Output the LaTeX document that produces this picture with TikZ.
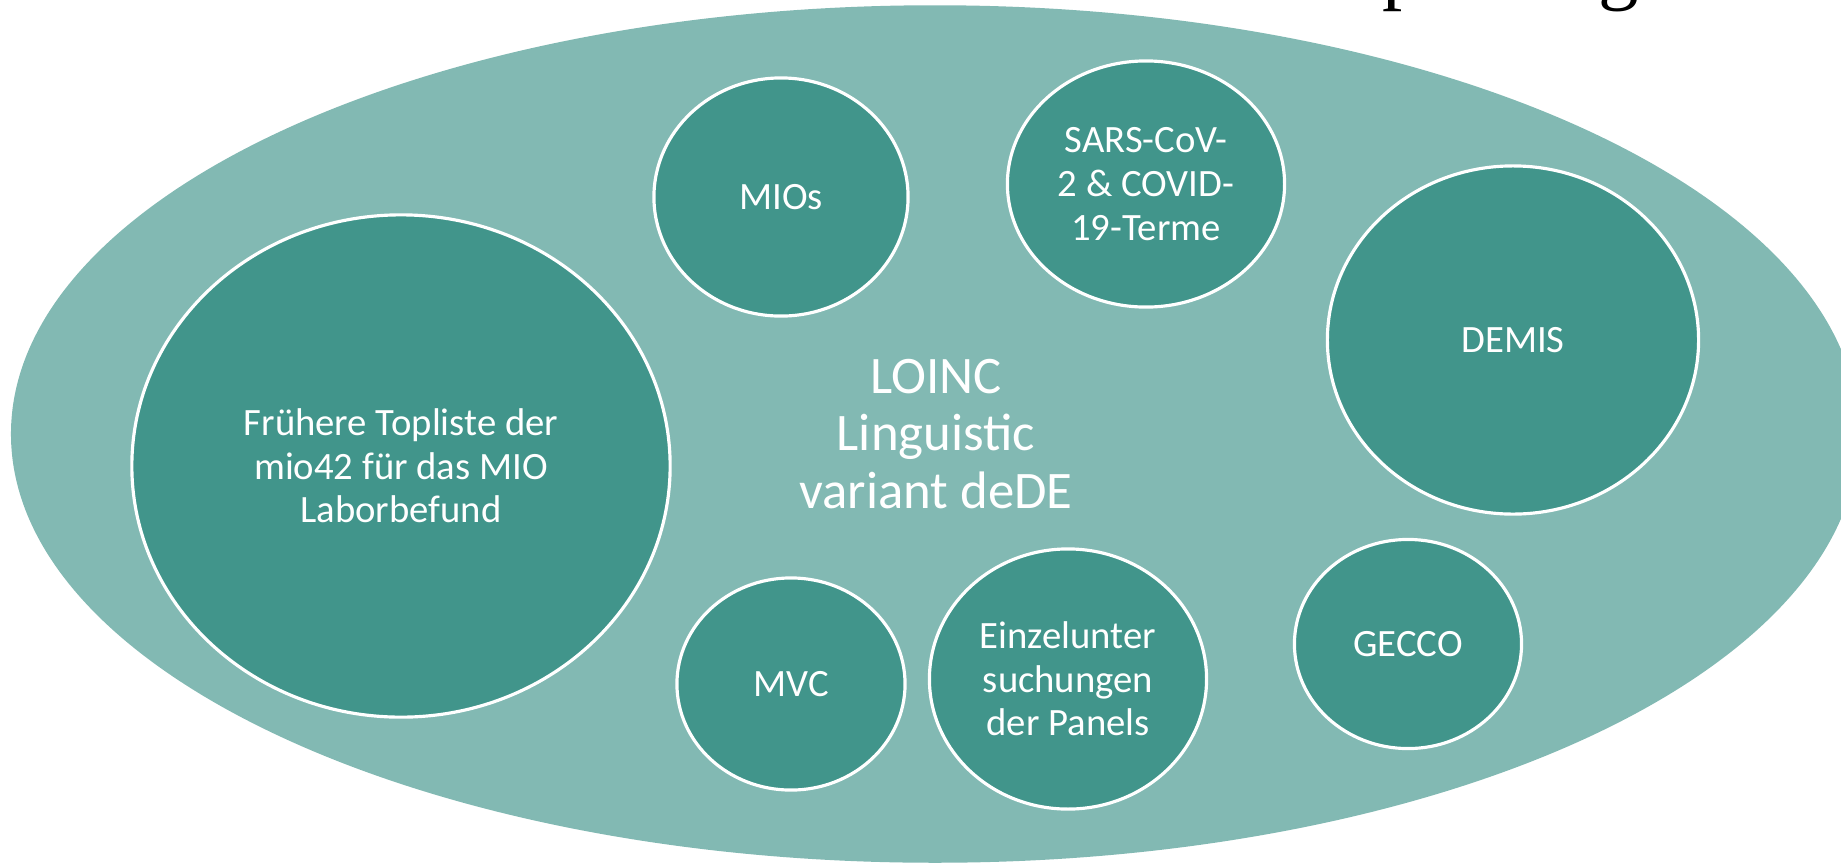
\documentclass[tikz,border=0pt]{standalone}
\usepackage{fontspec}
\setmainfont{Carlito}
\newfontfamily\titlefont{Liberation Serif}
\usetikzlibrary{shapes.geometric}
\definecolor{lightteal}{RGB}{130,185,179}
\definecolor{darkteal}{RGB}{65,149,139}
\tikzset{
  topic/.style={ellipse, fill=darkteal, draw=white, line width=0.9pt, text=white,
    align=center, inner sep=0pt, font=\fontsize{11}{12.4}\selectfont},
  titlechar/.style={anchor=base west, inner sep=0pt, font=\titlefont\fontsize{23}{28}\selectfont}
}

\begin{document}
\begin{tikzpicture}[x=0.01cm, y=-0.01cm]
\clip (0,0) rectangle (1841,863);
% cut off title
\node[titlechar] (titlep) at (1382,-6) {p};
\node[titlechar] (titleg) at (1598,-6) {g};
% outer ellipse
\node[ellipse, fill=lightteal, minimum width=18.47cm, minimum height=8.57cm, inner sep=0pt] (variant) at (935,434) {};
\node[text=white, align=center, font=\fontsize{15}{16.4}\selectfont] (loinc) at (936,434) {LOINC\\Linguistic\\variant deDE};
% topics
\node[topic, minimum width=5.38cm, minimum height=5.02cm] (toplist) at (401,466) {Frühere Topliste der\\mio42 für das MIO\\Laborbefund};
\node[topic, minimum width=2.54cm, minimum height=2.38cm] (mios) at (781,197) {MIOs};
\node[topic, minimum width=2.77cm, minimum height=2.46cm] (sarscov) at (1146,184) {SARS-CoV-\\2 \& COVID-\\19-Terme};
\node[topic, minimum width=3.71cm, minimum height=3.48cm] (demis) at (1513,340) {DEMIS};
\node[topic, minimum width=2.27cm, minimum height=2.09cm] (gecco) at (1408,644) {GECCO};
\node[topic, minimum width=2.28cm, minimum height=2.12cm] (mvc) at (791,684) {MVC};
\node[topic, minimum width=2.77cm, minimum height=2.60cm] (einzel) at (1068,679) {Einzelunter\\suchungen\\der Panels};
\end{tikzpicture}
\end{document}
